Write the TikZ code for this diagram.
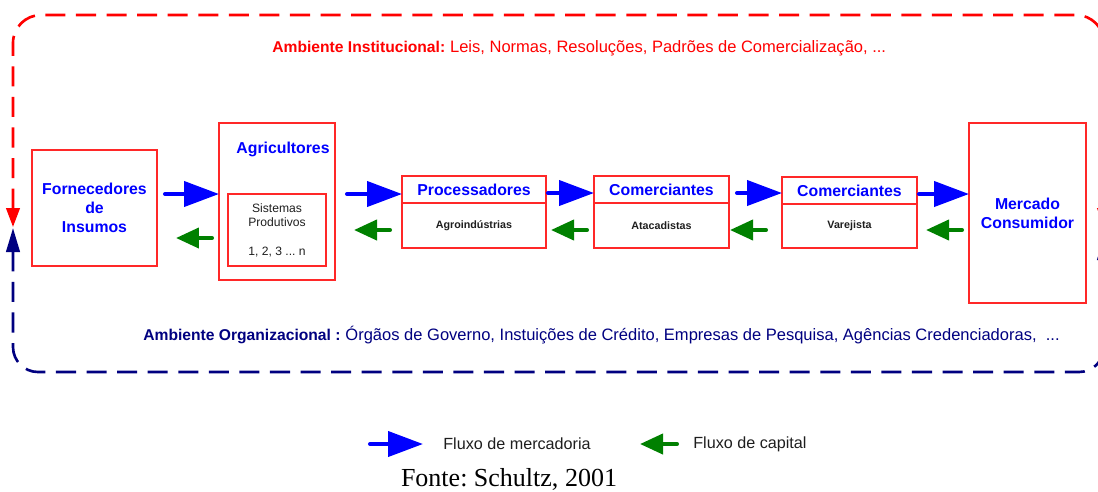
\documentclass[tikz,border=0pt]{standalone}
\usepackage{fontspec}
\setmainfont{Liberation Serif}
\setsansfont{Liberation Sans}
\usetikzlibrary{arrows.meta,positioning}

\definecolor{vermelho}{RGB}{255,0,0}
\definecolor{borda}{RGB}{255,40,40}
\definecolor{azul}{RGB}{0,0,255}
\definecolor{marinho}{RGB}{0,0,128}
\definecolor{verde}{RGB}{0,128,0}
\definecolor{texto}{RGB}{30,30,30}

\tikzset{
    caixa/.style={draw=borda, line width=0.85pt, inner sep=0pt, outer sep=0pt, align=center},
    titulo/.style={font=\sffamily\bfseries\fontsize{9}{10.8}\selectfont, text=azul, align=center},
    rotulo/.style={font=\sffamily\bfseries\fontsize{6.1}{7}\selectfont, text=texto},
    legenda/.style={font=\sffamily\fontsize{9.2}{11}\selectfont, text=texto, inner sep=0pt, anchor=west},
    mercadoria/.style={draw=azul, line width=2.3pt, line cap=round, -{Triangle[length=0.7cm,width=0.5cm]}},
    capital/.style={draw=verde, line width=2.3pt, line cap=round, -{Triangle[length=0.46cm,width=0.4cm]}},
    ambiente/.style={line width=1.5pt, dash pattern=on 11.4pt off 6pt},
}

\begin{document}
\frenchspacing
\begin{tikzpicture}[x=0.02cm, y=-0.02cm, font=\sffamily]
        \useasboundingbox (0,0) rectangle (1098,491);
        \clip (0,0) rectangle (1098,491);

        \draw[ambiente, draw=vermelho, rounded corners=0.56cm,
            {Triangle[length=0.38cm,width=0.27cm]}-{Triangle[length=0.38cm,width=0.27cm]}]
            (13,227) -- (13,15) -- (1104,15) -- (1104,227);
        \draw[ambiente, draw=marinho, rounded corners=0.5cm,
            {Triangle[length=0.48cm,width=0.27cm]}-{Triangle[length=0.48cm,width=0.27cm]}]
            (13,228) -- (13,372) -- (1104,372) -- (1104,236);

        \node [anchor=west, inner sep=0pt, text=vermelho] (inst) at (272,48)
            {{\fontsize{8.9}{10}\selectfont\bfseries Ambiente Institucional:} {\fontsize{9.4}{11}\selectfont Leis, Normas, Resoluções, Padrões de Comercialização, ...}};
        \node [anchor=west, inner sep=0pt, text=marinho] (org) at (143,335)
            {{\fontsize{8.9}{10}\selectfont\bfseries Ambiente Organizacional :} {\fontsize{9.4}{11}\selectfont Órgãos de Governo, Instuições de Crédito, Empresas de Pesquisa, Agências Credenciadoras,\ \ ...}};

        \node [caixa, titulo, minimum width=2.5cm, minimum height=2.32cm] (forn) at (94.5,208) {Fornecedores\\de\\Insumos};
        \node [caixa, minimum width=2.32cm, minimum height=3.14cm] (agri) at (277,201.5) {};
        \node [titulo] (agrit) at (283,149) {Agricultores};
        \node [caixa, minimum width=1.96cm, minimum height=1.44cm, text=texto,
            font=\sffamily\fontsize{6.9}{8}\selectfont] (sist) at (277,230) {Sistemas\\Produtivos\\[8.5pt]1, 2, 3 ... n};
        \node [caixa, titulo, minimum width=2.88cm, minimum height=0.54cm] (proc) at (474,189.5) {Processadores};
        \node [caixa, rotulo, minimum width=2.88cm, minimum height=0.9cm, below=0pt of proc] (agro) {Agroindústrias};
        \node [caixa, titulo, minimum width=2.7cm, minimum height=0.54cm] (atac) at (661.5,189.5) {Comerciantes};
        \node [caixa, rotulo, minimum width=2.7cm, minimum height=0.9cm, below=0pt of atac] (atacb) {Atacadistas};
        \node [caixa, titulo, minimum width=2.7cm, minimum height=0.54cm] (varej) at (849.5,190.5) {Comerciantes};
        \node [caixa, rotulo, minimum width=2.7cm, minimum height=0.88cm, below=0pt of varej] (varejb) {Varejista};
        \node [caixa, titulo, minimum width=2.34cm, minimum height=3.6cm] (merc) at (1027.5,213) {Mercado\\Consumidor};

        \coordinate (m1) at (165,194);
        \coordinate (m2) at (347,194);
        \coordinate (m3) at (548,193);
        \coordinate (m4) at (737,193);
        \coordinate (m5) at (919,194);

        \draw[mercadoria] (m1) -- (agri.west |- m1);
        \draw[mercadoria] (m2) -- (proc.west |- m2);
        \draw[mercadoria] (m3) -- (atac.west |- m3);
        \draw[mercadoria] (m4) -- (varej.west |- m4);
        \draw[mercadoria] (m5) -- (merc.west |- m5);

        \coordinate (c1) at (212,238);
        \coordinate (c2) at (390,230);
        \coordinate (c3) at (587,230);
        \coordinate (c4) at (766,230);
        \coordinate (c5) at (962,230);

        \draw[capital] (c1) -- ++(-36,0);
        \draw[capital] (c2) -- ++(-36,0);
        \draw[capital] (c3) -- ++(-36,0);
        \draw[capital] (c4) -- ++(-36,0);
        \draw[capital] (c5) -- ++(-36,0);

        \node [legenda] (lmerc) at (443,444) {Fluxo de mercadoria};
        \node [legenda] (lcap) at (693,444) {Fluxo de capital};
        \coordinate (lm) at (370,444);
        \coordinate (lc) at (677,444);
        \draw[mercadoria] (lm) -- ([xshift=-0.4cm]lmerc.west);
        \draw[capital] (lc) -- ++(-37,0);

        \node [font=\rmfamily\fontsize{14.8}{17}\selectfont] (fonte) at (509,479) {Fonte: Schultz, 2001};
    \end{tikzpicture}
\end{document}
